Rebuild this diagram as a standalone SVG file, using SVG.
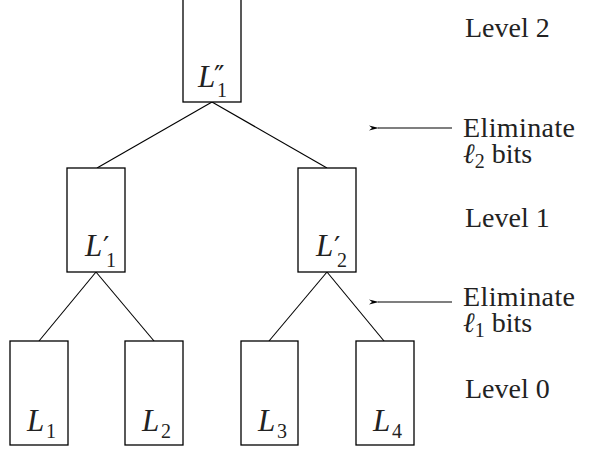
<svg xmlns="http://www.w3.org/2000/svg" width="589" height="450" viewBox="0 0 589 450">
<style>
.box{fill:#fff;stroke:#000;stroke-width:1.3}
.ln{stroke:#000;stroke-width:1.1;fill:none}
.t{font-family:"Liberation Serif",serif;font-size:28px;fill:#222}
.L{font-family:"Liberation Serif",serif;font-style:italic;font-size:31px;fill:#222}
.s{font-family:"Liberation Serif",serif;font-size:20px;font-style:normal}
.p{font-family:"DejaVu Sans",sans-serif;font-size:28px;font-style:normal}
</style>
<defs>
<marker id="ah" markerWidth="10" markerHeight="6" refX="1" refY="3" orient="auto" markerUnits="userSpaceOnUse">
<path d="M10,0.5 L0,3 L10,5.5 L7,3 Z" fill="#000"/>
</marker>
</defs>
<g id="connectors">
<line class="ln" x1="212" y1="102" x2="97" y2="168"/>
<line class="ln" x1="212" y1="102" x2="327" y2="168"/>
<line class="ln" x1="96" y1="272" x2="39" y2="341"/>
<line class="ln" x1="96" y1="272" x2="154" y2="341"/>
<line class="ln" x1="327" y1="272" x2="269" y2="341"/>
<line class="ln" x1="327" y1="272" x2="384" y2="341"/>
<line class="ln" x1="452" y1="128" x2="378" y2="128" marker-end="url(#ah)"/>
<line class="ln" x1="452" y1="302" x2="378" y2="302" marker-end="url(#ah)"/>
</g>
<g id="top">
<rect class="box" x="183" y="-5" width="58" height="107"/>
<text class="L" x="198" y="87">L<tspan class="p" x="214" y="86">″</tspan><tspan class="s" x="217" y="97">1</tspan></text>
</g>
<g id="l1a">
<rect class="box" x="67" y="168" width="58" height="104"/>
<text class="L" x="85" y="256">L<tspan class="p" x="103" y="257">′</tspan><tspan class="s" x="106" y="267">1</tspan></text>
</g>
<g id="l1b">
<rect class="box" x="298" y="168" width="58" height="104"/>
<text class="L" x="316" y="256">L<tspan class="p" x="334" y="257">′</tspan><tspan class="s" x="337" y="267">2</tspan></text>
</g>
<g id="n1">
<rect class="box" x="10" y="341" width="58" height="104"/>
<text class="L" x="27" y="431">L<tspan class="s" x="46" y="438">1</tspan></text>
</g>
<g id="n2">
<rect class="box" x="125" y="341" width="58" height="104"/>
<text class="L" x="142" y="431">L<tspan class="s" x="161" y="438">2</tspan></text>
</g>
<g id="n3">
<rect class="box" x="241" y="341" width="57" height="104"/>
<text class="L" x="258" y="431">L<tspan class="s" x="277" y="438">3</tspan></text>
</g>
<g id="n4">
<rect class="box" x="356" y="341" width="58" height="104"/>
<text class="L" x="373" y="431">L<tspan class="s" x="392" y="438">4</tspan></text>
</g>
<g id="labels">
<text class="t" x="465" y="37">Level 2</text>
<text class="t" x="463" y="137" textLength="112">Eliminate</text>
<text class="t" x="463" y="163"><tspan font-style="italic">ℓ</tspan><tspan font-size="20" dy="5">2</tspan><tspan dy="-5"> bits</tspan></text>
<text class="t" x="465" y="227">Level 1</text>
<text class="t" x="463" y="306" textLength="112">Eliminate</text>
<text class="t" x="463" y="332"><tspan font-style="italic">ℓ</tspan><tspan font-size="20" dy="5">1</tspan><tspan dy="-5"> bits</tspan></text>
<text class="t" x="465" y="398">Level 0</text>
</g>
</svg>
